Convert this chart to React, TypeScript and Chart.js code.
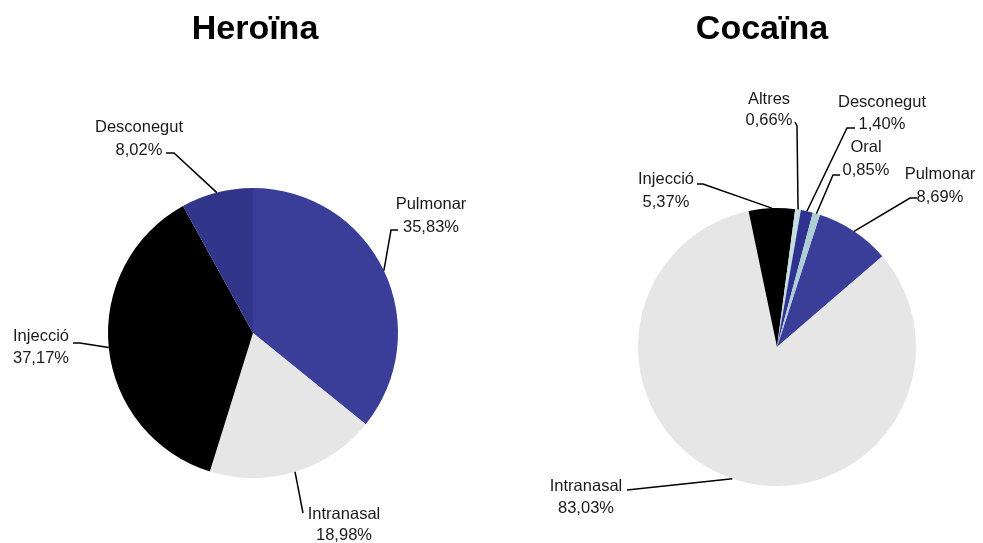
import React, { useEffect, useRef } from 'react';
import { Chart, registerables } from 'chart.js';

Chart.register(...registerables);

// ---- Data ----
const heroCategories = ['Pulmonar', 'Intranasal', 'Injecció', 'Desconegut'];
const heroValues = [35.83, 18.98, 37.17, 8.02];
const heroColors = ['#3b3e99', '#e6e6e6', '#000000', '#32368a'];

const cocaCategories = ['Pulmonar', 'Intranasal', 'Injecció', 'Altres', 'Desconegut', 'Oral'];
const cocaValues = [8.69, 83.03, 5.37, 0.66, 1.4, 0.85];
const cocaColors = ['#3b3e99', '#e6e6e6', '#000000', '#c6dee0', '#2f3390', '#abcfd5'];

// ---- Label layout (text centre x, line y's, leader elbow and end) ----
type Pt = [number, number];
type LabelLayout = { cx: number; y1: number; y2: number; elbow: Pt; end: Pt };

const heroLayout: LabelLayout[] = [
  { cx: 431, y1: 204, y2: 227, elbow: [391, 230], end: [398, 230] },
  { cx: 344, y1: 514, y2: 535, elbow: [303, 513], end: [303, 513] },
  { cx: 41, y1: 336, y2: 358, elbow: [80, 343], end: [73, 343] },
  { cx: 139, y1: 127, y2: 150, elbow: [174, 153], end: [166, 153] },
];

const cocaLayout: LabelLayout[] = [
  { cx: 940, y1: 174, y2: 197, elbow: [910, 198], end: [917, 198] },
  { cx: 586, y1: 486, y2: 508, elbow: [627, 490], end: [627, 490] },
  { cx: 666, y1: 179, y2: 202, elbow: [703, 184], end: [697, 184] },
  { cx: 769, y1: 99, y2: 120, elbow: [797, 126], end: [795, 122] },
  { cx: 882, y1: 102, y2: 124, elbow: [847, 128], end: [855, 128] },
  { cx: 866, y1: 147, y2: 170, elbow: [833, 175], end: [840, 175] },
];

const FONT = '"Liberation Sans", Arial, Helvetica, sans-serif';

const fmt = (v: number) => v.toFixed(2).replace('.', ',') + '%';

const pieLabelsPlugin = {
  id: 'pieLabels',
  afterDraw(chart: any, _args: any, opts: any) {
    const { ctx } = chart;
    const meta = chart.getDatasetMeta(0);
    const cats = chart.data.labels as string[];
    const values = chart.data.datasets[0].data as number[];
    ctx.save();
    // title
    ctx.font = `bold 34px ${FONT}`;
    ctx.fillStyle = '#000';
    ctx.textAlign = 'center';
    ctx.textBaseline = 'alphabetic';
    ctx.fillText(opts.title, opts.titleX, opts.titleY);

    meta.data.forEach((arc: any, i: number) => {
      const lay: LabelLayout = opts.layout[i];
      if (!lay) return;
      const p = arc.getProps(['x', 'y', 'startAngle', 'endAngle', 'outerRadius'], true);
      const mid = (p.startAngle + p.endAngle) / 2;
      const sx = p.x + Math.cos(mid) * p.outerRadius;
      const sy = p.y + Math.sin(mid) * p.outerRadius;
      ctx.beginPath();
      ctx.strokeStyle = '#000';
      ctx.lineWidth = 1.5;
      ctx.moveTo(sx, sy);
      ctx.lineTo(lay.elbow[0], lay.elbow[1]);
      ctx.lineTo(lay.end[0], lay.end[1]);
      ctx.stroke();

      ctx.font = `16.5px ${FONT}`;
      ctx.fillStyle = '#1a1a1a';
      ctx.textAlign = 'center';
      ctx.textBaseline = 'middle';
      ctx.fillText(cats[i], lay.cx, lay.y1);
      ctx.fillText(fmt(values[i]), lay.cx, lay.y2);
    });
    ctx.restore();
  },
};

type PieProps = {
  categories: string[];
  values: number[];
  colors: string[];
  layout: LabelLayout[];
  title: string;
  titleX: number;
  radius: number;
  rotation: number;
  padding: { left: number; right: number; top: number; bottom: number };
};

function PieCanvas(props: PieProps) {
  const ref = useRef<HTMLCanvasElement | null>(null);
  useEffect(() => {
    if (!ref.current) return;
    const chart = new Chart(ref.current, {
      type: 'pie',
      data: {
        labels: props.categories,
        datasets: [
          {
            data: props.values,
            backgroundColor: props.colors,
            borderWidth: 0,
          },
        ],
      },
      options: {
        animation: false,
        responsive: false,
        devicePixelRatio: 1,
        radius: props.radius,
        rotation: props.rotation,
        layout: { padding: props.padding },
        events: [],
        plugins: {
          legend: { display: false },
          tooltip: { enabled: false },
          title: { display: false },
          pieLabels: {
            layout: props.layout,
            title: props.title,
            titleX: props.titleX,
            titleY: 39,
          },
        } as any,
      } as any,
      plugins: [pieLabelsPlugin as any],
    });
    return () => chart.destroy();
  }, []);
  return (
    <canvas
      ref={ref}
      width={983}
      height={543}
      style={{ position: 'absolute', left: 0, top: 0, width: 983, height: 543 }}
    />
  );
}

export default function App() {
  return (
    <div
      style={{
        position: 'absolute',
        left: 0,
        top: 0,
        width: 983,
        height: 543,
        background: '#ffffff',
        overflow: 'hidden',
      }}
    >
      <PieCanvas
        categories={heroCategories}
        values={heroValues}
        colors={heroColors}
        layout={heroLayout}
        title="Heroïna"
        titleX={255}
        radius={145}
        rotation={0}
        padding={{ left: 108, right: 585, top: 188, bottom: 65 }}
      />
      <PieCanvas
        categories={cocaCategories}
        values={cocaValues}
        colors={cocaColors}
        layout={cocaLayout}
        title="Cocaïna"
        titleX={762}
        radius={139}
        rotation={18}
        padding={{ left: 638, right: 67, top: 208, bottom: 57 }}
      />
    </div>
  );
}
